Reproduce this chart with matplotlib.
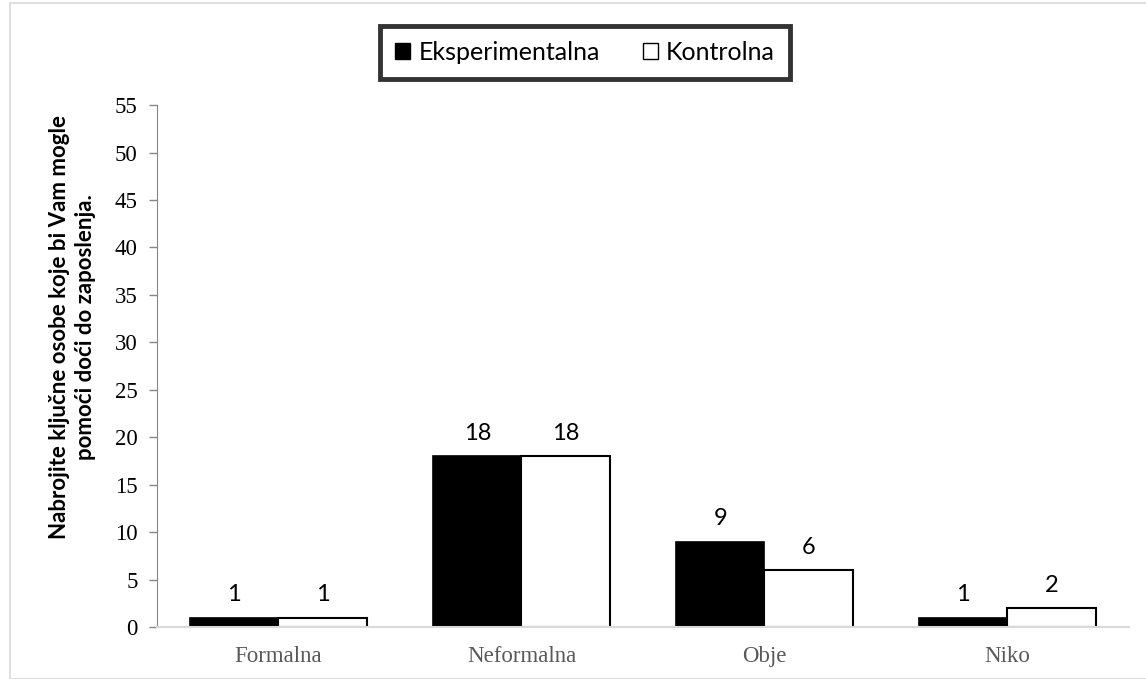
import numpy as np
import matplotlib.pyplot as plt
from matplotlib.patches import Rectangle, Patch

# Data
categories = ["Formalna", "Neformalna", "Obje", "Niko"]
eksperimentalna = [1, 18, 9, 1]
kontrolna = [1, 18, 6, 2]
series_names = ["Eksperimentalna", "Kontrolna"]
ylabel = "Nabrojite ključne osobe koje bi Vam mogle\npomoći doći do zaposlenja."

SANS = ["Lato", "DejaVu Sans"]
SERIF = ["Liberation Serif", "DejaVu Serif"]


def main():
    fig = plt.figure(figsize=(11.46, 6.79), dpi=100)
    ax = fig.add_axes([0.137, 0.0766, 0.848, 0.7685])

    # light frame around the chart area
    fig.patches.append(Rectangle((10 / 1146, 0), 1.2, (679 - 3) / 679, transform=fig.transFigure,
                                 fill=False, edgecolor="#d9d9d9", linewidth=1.2))

    x = np.arange(len(categories))
    w = 0.364
    b1 = ax.bar(x - w / 2, eksperimentalna, w, color="black", edgecolor="black", linewidth=1.2)
    b2 = ax.bar(x + w / 2, kontrolna, w, color="white", edgecolor="black", linewidth=1.5)

    for bars in (b1, b2):
        for bar in bars:
            h = bar.get_height()
            ax.annotate(f"{h:g}", (bar.get_x() + bar.get_width() / 2, h), xytext=(0, 9),
                        textcoords="offset points", ha="center", va="bottom",
                        fontsize=17, family=SANS)

    ax.set_xlim(-0.5, len(categories) - 0.5)
    ax.set_ylim(0, 55)
    ax.set_yticks(np.arange(0, 56, 5))
    ax.set_xticks(x)
    ax.set_xticklabels(categories, family=SERIF, fontsize=16.5, color="#595959")
    for lab in ax.get_yticklabels():
        lab.set_family(SERIF)
        lab.set_fontsize(16.5)
    ax.tick_params(axis="x", length=0, pad=14)
    ax.tick_params(axis="y", length=6, width=1, color="#868686", pad=8)

    for s in ("top", "right"):
        ax.spines[s].set_visible(False)
    ax.spines["left"].set_color("#868686")
    ax.spines["bottom"].set_color("#d9d9d9")
    ax.spines["bottom"].set_linewidth(1.5)

    ax.set_ylabel(ylabel, family=SANS, fontsize=16, fontweight="bold", linespacing=1.3)
    ax.yaxis.set_label_coords(-0.063, 0.575)

    handles = [Patch(facecolor="black", edgecolor="black"),
               Patch(facecolor="white", edgecolor="black")]
    leg = fig.legend(handles, series_names, loc="center", bbox_to_anchor=(585 / 1146, 1 - 52 / 679),
                     ncol=2, frameon=True, fancybox=False, prop={"family": SANS, "size": 18},
                     handlelength=0.6, handleheight=0.6, handletextpad=0.35, columnspacing=1.7,
                     borderpad=0.6, borderaxespad=0)
    fr = leg.get_frame()
    fr.set_edgecolor("black")
    fr.set_linewidth(3.5)

    fig.savefig("out.png", dpi=100, facecolor="white")


if __name__ == "__main__":
    main()
